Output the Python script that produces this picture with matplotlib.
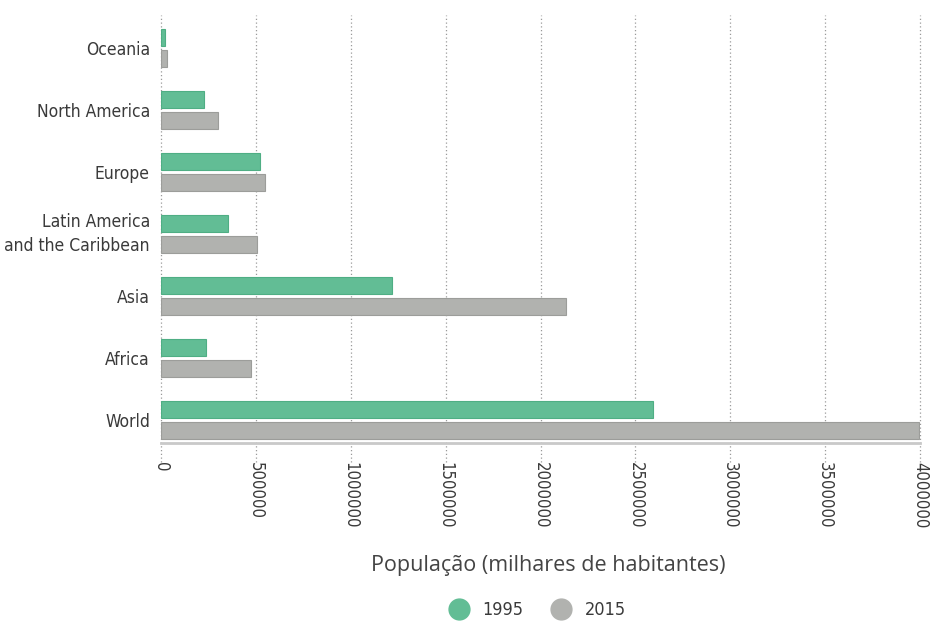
import matplotlib
matplotlib.use("Agg")
import matplotlib.pyplot as plt
from matplotlib import font_manager as fm
from matplotlib.lines import Line2D
import numpy as np

# data (thousands of inhabitants)
regions = ["World", "Africa", "Asia", "Latin America\nand the Caribbean",
           "Europe", "North America", "Oceania"]
pop_1995 = [2591000, 237000, 1219000, 354000, 522000, 227000, 20000]
pop_2015 = [3995000, 475000, 2132000, 507000, 549000, 300000, 33000]
xticks = [0, 500000, 1000000, 1500000, 2000000, 2500000, 3000000, 3500000, 4000000]

green = "#62bd95"
grey = "#b1b2af"
text_col = "#3a3a3a"

# condensed face, like the reference labels
narrow = fm.FontProperties(family="DejaVu Sans", stretch="condensed")

fig = plt.figure(figsize=(9.32, 6.22), dpi=100)
ax = fig.add_axes([161 / 932, 1 - 443 / 622, (920 - 161) / 932, (443 - 15) / 622])

y = np.arange(len(regions))
h = 0.275
off = 0.17
ax.barh(y + off, pop_1995, height=h, color=green, edgecolor="#4fae84", linewidth=0.8, zorder=3)
ax.barh(y - off, pop_2015, height=h, color=grey, edgecolor="#9c9d9a", linewidth=0.8, zorder=3)

ax.set_xlim(0, 4000000)
ax.set_ylim(-0.37, 6.53)

# dotted gridlines that run a little below the axis line
for t in xticks:
    ax.plot([t, t], [-0.045, 1], transform=ax.get_xaxis_transform(),
            color="#9a9a9a", linestyle=(0, (1, 2)), linewidth=0.9,
            clip_on=False, zorder=1)

ax.set_xticks(xticks)
ax.set_xticklabels([str(t) for t in xticks], rotation=270, fontproperties=narrow,
                   fontsize=12, color=text_col)
ax.tick_params(axis="x", length=0, pad=14)
ax.set_yticks(y)
ax.set_yticklabels(regions, fontproperties=narrow, fontsize=12.5, color=text_col,
                   linespacing=1.4)
ax.tick_params(axis="y", length=0, pad=8)
for lab in ax.get_yticklabels():
    if "\n" in lab.get_text():
        lab.set_va("center")

for s in ["top", "right", "left"]:
    ax.spines[s].set_visible(False)
ax.spines["bottom"].set_color("#c9c9c9")
ax.spines["bottom"].set_linewidth(2)
ax.spines["bottom"].set_zorder(4)

fig.text(548 / 932, 1 - 565 / 622, "População (milhares de habitantes)",
         ha="center", va="center", family=["Open Sans", "DejaVu Sans"],
         fontsize=15.5, color="#444444")

handles = [Line2D([], [], marker="o", linestyle="", markersize=15, color=green),
           Line2D([], [], marker="o", linestyle="", markersize=15, color=grey)]
lp = narrow.copy()
lp.set_size(13)
fig.legend(handles, ["1995", "2015"], loc="center", ncol=2,
           bbox_to_anchor=(533 / 932, 1 - 610 / 622), frameon=False,
           prop=lp, handletextpad=0.3,
           columnspacing=1.1, labelcolor=text_col)

fig.savefig("out.png", dpi=100)
